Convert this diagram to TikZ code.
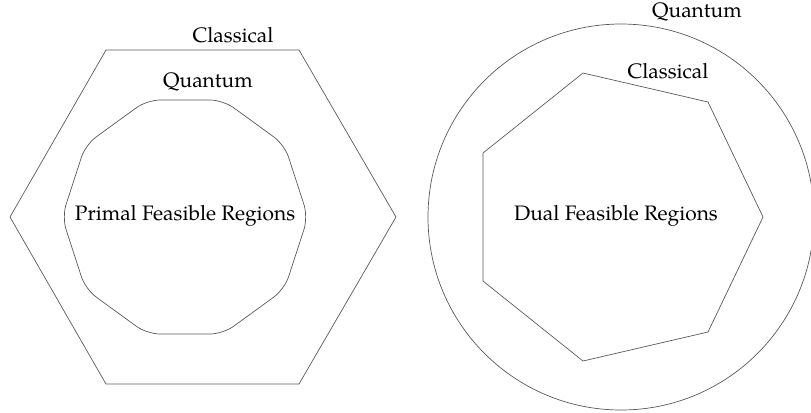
\documentclass[tikz,border=0pt]{standalone}
\usepackage{fontspec}
\setmainfont{texgyrepagella}[Extension=.otf, UprightFont=*-regular]
\begin{document}
\begin{tikzpicture}[x=1bp, y=-1bp,
    region/.style={draw=black!65, line width=0.7bp},
    lbl/.style={font=\fontsize{21}{24}\selectfont, inner sep=0pt}]
  \useasboundingbox (0,0) rectangle (811,412);
  % hexagon representing the classical primal region
  \draw[region] (10,217) -- (106,50) -- (299,50) -- (396,217) -- (299,384) -- (106,384) -- cycle;
  \node[lbl] (clsP) at (233,35) {Classical};
  % rounded decagon representing the quantum primal region
  \draw[region, rounded corners=13bp] (308,217) -- (284.5,289.3) -- (223,334) -- (147,334) -- (85.5,289.3)
    -- (62,217) -- (85.5,144.7) -- (147,100) -- (223,100) -- (284.5,144.7) -- cycle;
  \node[lbl] (qtmP) at (208,82) {Quantum};
  \node[lbl] (primal) at (185,216) {Primal Feasible Regions};
  % circle representing the quantum dual region
  \draw[region] (621,217) circle [radius=193];
  \node[lbl] (qtmD) at (697,12) {Quantum};
  % heptagon representing the classical dual region
  \draw[region] (763,217) -- (708,332) -- (583,361) -- (483,281) -- (483,153) -- (583,73) -- (708,102) -- cycle;
  \node[lbl] (clsD) at (668,71) {Classical};
  \node[lbl] (dual) at (616,216) {Dual Feasible Regions};
\end{tikzpicture}
\end{document}
